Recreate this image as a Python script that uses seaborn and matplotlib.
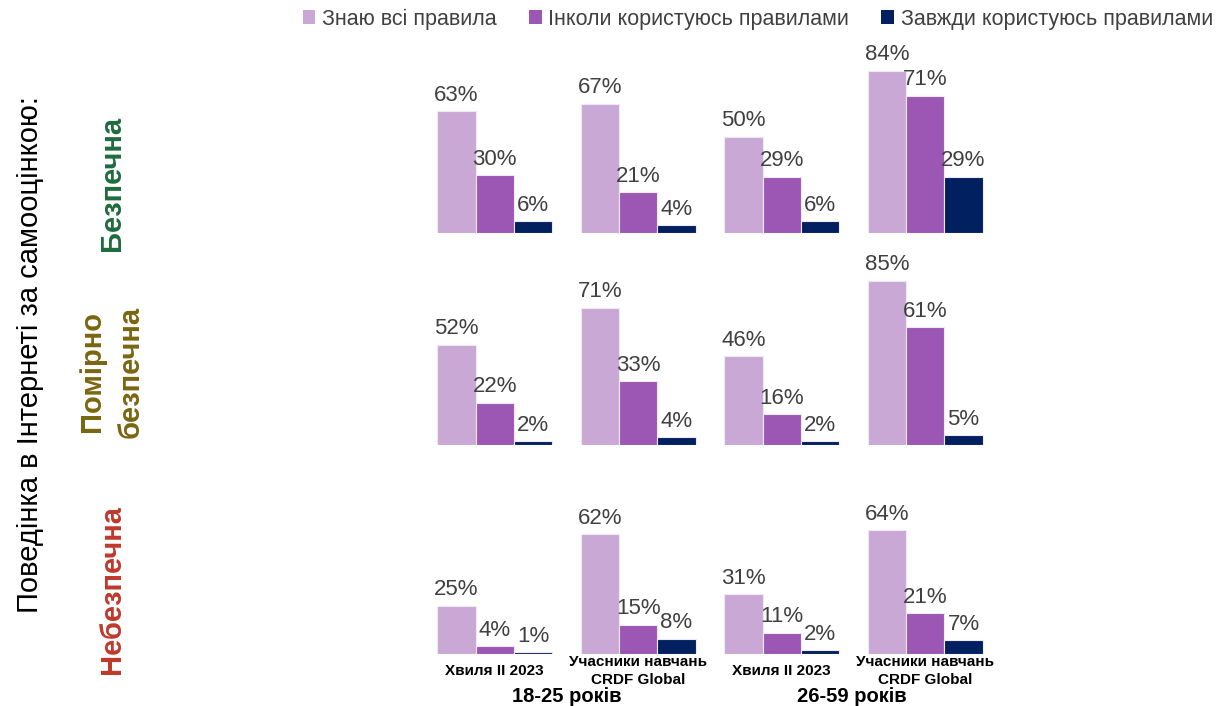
import matplotlib
matplotlib.use("Agg")
import matplotlib.pyplot as plt
import seaborn as sns
import pandas as pd
from matplotlib.patches import Patch

sns.set_theme(style="white")
plt.rcParams['font.family'] = ['Liberation Sans', 'DejaVu Sans']

groups = ["Хвиля ІІ 2023", "Учасники навчань\nCRDF Global", "Хвиля ІІ 2023 ", "Учасники навчань\nCRDF Global "]
series = ["Знаю всі правила", "Інколи користуюсь правилами", "Завжди користуюсь правилами"]
age_groups = ["18-25 років", "26-59 років"]
rows = ["Безпечна", "Помірно\nбезпечна", "Небезпечна"]
row_colors = ["#1E6B3C", "#7A6510", "#C0392B"]
palette = ["#C9A8D6", "#9B57B3", "#002060"]

safe_know = [63, 67, 50, 84]
safe_some = [30, 21, 29, 71]
safe_always = [6, 4, 6, 29]
mod_know = [52, 71, 46, 85]
mod_some = [22, 33, 16, 61]
mod_always = [2, 4, 2, 5]
unsafe_know = [25, 62, 31, 64]
unsafe_some = [4, 15, 11, 21]
unsafe_always = [1, 8, 2, 7]

row_data = [
    [safe_know, safe_some, safe_always],
    [mod_know, mod_some, mod_always],
    [unsafe_know, unsafe_some, unsafe_always],
]

fig = plt.figure(figsize=(12.19, 7.06), dpi=100)
left = 423 / 1219
width = 574 / 1219
height = 193 / 706
bottoms = [(706 - 233) / 706, (706 - 445) / 706, (706 - 654) / 706]
row_label_y = [183, 372, 590]
row_label_x = [112, 111, 112]

label_color = "#404040"
for r, (vals, bottom) in enumerate(zip(row_data, bottoms)):
    ax = fig.add_axes([left, bottom, width, height])
    recs = []
    for s, v in zip(series, vals):
        for g, val in zip(groups, v):
            recs.append({"group": g, "series": s, "value": val})
    df = pd.DataFrame(recs)
    sns.barplot(data=df, x="group", y="value", hue="series", hue_order=series,
                order=groups, palette=palette, saturation=1, ax=ax, width=0.8,
                edgecolor="#F0E8F4", linewidth=0.8, legend=False, errorbar=None)
    for cont, v in zip(ax.containers, vals):
        ax.bar_label(cont, labels=[f"{x}%" for x in v], padding=4,
                     fontsize=16, color=label_color)
    ax.set_ylim(0, 100)
    ax.set_xlim(-0.5, 3.5)
    ax.set_ylabel("")
    ax.set_xlabel("")
    ax.set_yticks([])
    for sp in ax.spines.values():
        sp.set_visible(False)
    if r < 2:
        ax.set_xticks([])
    else:
        ax.tick_params(axis="x", length=0, pad=12.2)
        ax.set_xticks(range(4))
        ax.set_xticklabels([g.strip() for g in groups], fontsize=11,
                           fontweight="bold", color="black", linespacing=1.3)
        for lbl in ax.get_xticklabels():
            lbl.set_va("center")
    # row label
    fig.text(row_label_x[r] / 1219, 1 - row_label_y[r] / 706, rows[r],
             rotation=90, ha="center", va="center", fontsize=21,
             fontweight="bold", color=row_colors[r], linespacing=1.48)

# age-group labels
fig.text(567 / 1219, 1 - 697 / 706, age_groups[0], ha="center", va="center",
         fontsize=14.5, fontweight="bold", color="black")
fig.text(852 / 1219, 1 - 697 / 706, age_groups[1], ha="center", va="center",
         fontsize=14.5, fontweight="bold", color="black")

# big left title
fig.text(30 / 1219, 1 - 355 / 706, "Поведінка в Інтернеті за самооцінкою:",
         rotation=90, ha="center", va="center", fontsize=21, color="black")

handles = [Patch(facecolor=c, edgecolor="none") for c in palette]
leg = fig.legend(handles, series, loc="upper right", bbox_to_anchor=(1.011, 1.015),
                 ncol=3, frameon=False, fontsize=15.5, handlelength=0.6,
                 handleheight=0.6, handletextpad=0.3, columnspacing=1.5)
for t in leg.get_texts():
    t.set_color(label_color)

fig.savefig("out.png", dpi=100)
